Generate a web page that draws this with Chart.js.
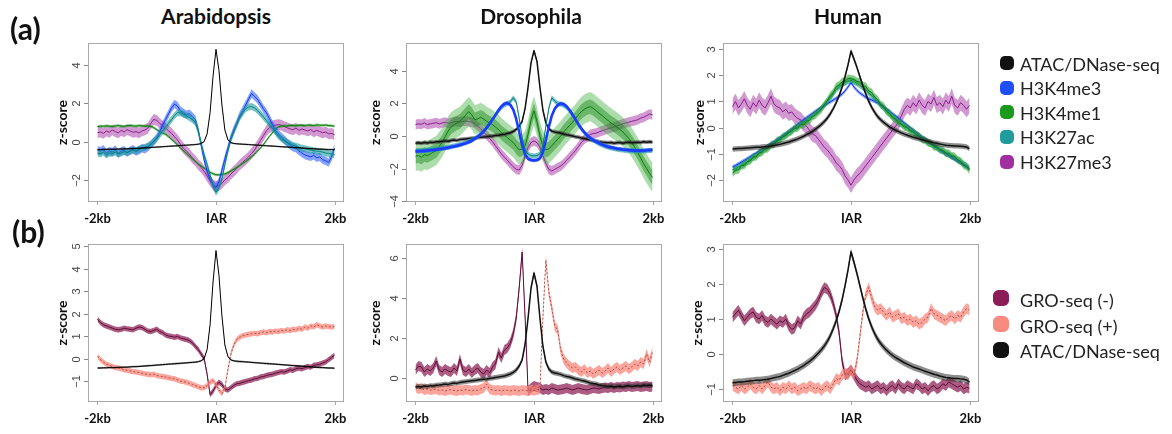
<!DOCTYPE html>
<html><head><meta charset="utf-8">
<script src="https://cdn.jsdelivr.net/npm/chart.js@4.4.1/dist/chart.umd.min.js"></script>
<style>
html,body{margin:0;padding:0;background:#fff}
body{width:1172px;height:434px;overflow:hidden;position:relative;font-family:Lato,"Open Sans",sans-serif;color:#111}
canvas{position:absolute}
.txt{position:absolute;white-space:nowrap;line-height:1}
.mk{position:absolute}
</style></head><body>
<script>
// ---------- text ----------
const species = ['Arabidopsis', 'Drosophila', 'Human'];
const panelTags = ['(a)', '(b)'];
const markLabels = ['ATAC/DNase-seq', 'H3K4me3', 'H3K4me1', 'H3K27ac', 'H3K27me3'];
const groLabels = ['GRO-seq (-)', 'GRO-seq (+)', 'ATAC/DNase-seq'];
const xTickValues = [-2000, 0, 2000];
const xTickLabels = ['-2kb', 'IAR', '2kb'];
const yAxisTitle = 'z-score';

// ---------- y ticks ----------
const arabMarkTicks = [-2, 0, 2, 4];
const drosMarkTicks = [-4, -2, 0, 2, 4];
const humanMarkTicks = [-2, -1, 0, 1, 2, 3];
const arabGroTicks = [-1, 0, 1, 2, 3, 4, 5];
const drosGroTicks = [0, 2, 4, 6];
const humanGroTicks = [-1, 0, 1, 2, 3];

// ---------- Arabidopsis ----------
const arabATAC = [-0.42,-0.42,-0.41,-0.41,-0.4,-0.4,-0.4,-0.39,-0.39,-0.38,
 -0.38,-0.37,-0.36,-0.36,-0.35,-0.34,-0.33,-0.32,-0.31,-0.3,
 -0.29,-0.28,-0.27,-0.26,-0.25,-0.24,-0.23,-0.22,-0.21,-0.2,
 -0.19,-0.18,-0.17,-0.16,-0.14,-0.1,0.0,0.4,1.5,3.4,
 4.8,3.7,1.9,0.6,0.1,-0.06,-0.1,-0.12,-0.13,-0.14,
 -0.15,-0.16,-0.17,-0.18,-0.19,-0.2,-0.21,-0.22,-0.23,-0.24,
 -0.25,-0.26,-0.27,-0.28,-0.29,-0.3,-0.31,-0.32,-0.33,-0.34,
 -0.35,-0.36,-0.37,-0.38,-0.39,-0.4,-0.4,-0.41,-0.42,-0.42,-0.43];
const arabH3K4me3 = [-0.45,-0.5,-0.4,-0.6,-0.5,-0.55,-0.42,-0.62,-0.5,-0.45,-0.58,-0.48,-0.4,-0.52,-0.45,-0.35,-0.4,-0.3,
 -0.15,0.0,0.2,0.5,0.85,1.15,1.45,1.75,1.95,1.85,1.6,1.5,1.4,1.45,1.3,1.15,0.6,-0.2,-0.95,-1.55,-1.95,-2.25,-2.4,
 -2.1,-1.5,-0.9,-0.35,0.2,0.6,0.95,1.35,1.6,1.9,2.2,2.5,2.35,2.2,1.95,1.7,1.5,1.2,0.9,0.6,
 0.4,0.25,0.1,-0.05,-0.2,-0.3,-0.35,-0.5,-0.6,-0.7,-0.75,-0.8,-0.72,-0.85,-0.8,-0.95,-1.0,-1.1,-0.8,-0.35];
const arabH3K4me1 = [0.78,0.80,0.79,0.82,0.80,0.78,0.81,0.83,0.80,0.79,0.82,0.84,0.81,0.80,0.83,0.82,0.80,0.81,0.79,
 0.72,0.62,0.52,0.44,0.37,0.25,0.11,-0.03,-0.18,-0.33,-0.48,-0.62,-0.76,-0.9,-1.04,-1.17,-1.28,-1.38,-1.5,-1.6,-1.68,-1.73,
 -1.74,-1.72,-1.69,-1.62,-1.54,-1.45,-1.35,-1.25,-1.14,-1.04,-0.92,-0.8,-0.66,-0.5,-0.34,-0.16,0.05,0.26,0.45,0.64,0.76,0.8,
 0.82,0.80,0.84,0.83,0.81,0.85,0.84,0.82,0.86,0.85,0.83,0.87,0.85,0.84,0.86,0.83,0.82,0.80];
const arabH3K27ac = [-0.6,-0.65,-0.55,-0.7,-0.6,-0.62,-0.55,-0.65,-0.6,-0.52,-0.58,-0.5,-0.45,-0.5,-0.4,-0.35,-0.3,-0.25,
 -0.15,0.0,0.15,0.35,0.55,0.75,0.95,1.15,1.35,1.5,1.5,1.42,1.35,1.25,1.15,1.0,0.55,-0.1,-0.7,-1.2,-1.75,-2.3,-2.65,
 -2.4,-1.95,-1.2,-0.5,0.1,0.5,0.9,1.25,1.5,1.7,1.8,1.82,1.75,1.62,1.45,1.28,1.1,0.9,0.7,0.5,
 0.3,0.15,0.05,-0.05,-0.12,-0.2,-0.25,-0.3,-0.35,-0.38,-0.42,-0.45,-0.48,-0.5,-0.52,-0.55,-0.6,-0.62,-0.65,-0.68];
const arabH3K27me3 = [0.45,0.5,0.42,0.55,0.48,0.6,0.52,0.45,0.58,0.5,0.62,0.55,0.48,0.52,0.45,0.55,0.6,0.7,
 0.95,1.15,1.1,0.95,0.8,0.7,0.55,0.42,0.25,0.08,-0.15,-0.35,-0.5,-0.65,-0.85,-1.0,-1.2,-1.35,-1.55,-1.8,-2.05,-2.25,-2.35,
 -2.3,-2.18,-2.0,-1.88,-1.7,-1.55,-1.4,-1.22,-1.08,-0.95,-0.8,-0.62,-0.45,-0.2,0.05,0.3,0.55,0.72,0.8,0.85,
 0.88,0.85,0.78,0.72,0.65,0.62,0.7,0.58,0.65,0.6,0.55,0.62,0.5,0.58,0.52,0.45,0.5,0.4,0.42,0.35];
const arabGROminus = [1.75,1.6,1.5,1.45,1.4,1.35,1.3,1.28,1.3,1.35,
 1.32,1.3,1.28,1.35,1.4,1.38,1.3,1.22,1.2,1.25,
 1.3,1.2,1.15,1.05,1.0,0.98,0.95,0.98,0.92,0.88,
 0.85,0.8,0.7,0.55,0.4,0.2,0.0,-0.7,-1.6,-1.45,
 -1.2,-1.05,-1.15,-1.35,-1.4,-1.3,-1.2,-1.12,-1.1,-1.05,
 -1.02,-0.98,-0.95,-0.9,-0.88,-0.82,-0.8,-0.75,-0.72,-0.7,
 -0.65,-0.62,-0.58,-0.6,-0.55,-0.5,-0.52,-0.45,-0.42,-0.45,
 -0.4,-0.35,-0.38,-0.3,-0.28,-0.25,-0.2,-0.15,-0.05,0.05,0.15];
const arabGROplus = [0.1,-0.05,-0.15,-0.25,-0.3,-0.35,-0.4,-0.42,-0.45,-0.5,
 -0.52,-0.55,-0.58,-0.6,-0.62,-0.65,-0.68,-0.7,-0.72,-0.7,
 -0.75,-0.78,-0.8,-0.82,-0.85,-0.88,-0.9,-0.95,-1.0,-1.02,
 -1.05,-1.1,-1.15,-1.2,-1.25,-1.3,-1.3,-1.2,-1.05,-0.98,
 -1.15,-1.4,-1.55,-1.3,-0.5,0.2,0.6,0.85,0.95,1.02,
 1.05,1.08,1.1,1.12,1.1,1.15,1.18,1.15,1.2,1.18,
 1.22,1.2,1.25,1.22,1.28,1.25,1.3,1.28,1.35,1.3,
 1.4,1.35,1.45,1.4,1.5,1.45,1.4,1.45,1.42,1.4,1.42];

// ---------- Drosophila ----------
const drosATAC = [-0.45,-0.42,-0.45,-0.4,-0.43,-0.38,-0.4,-0.36,-0.35,-0.33,
 -0.3,-0.32,-0.28,-0.25,-0.27,-0.22,-0.2,-0.18,-0.16,-0.14,
 -0.12,-0.1,-0.08,-0.06,-0.05,-0.02,0.0,0.03,0.05,0.08,
 0.1,0.15,0.2,0.28,0.4,0.6,0.9,1.7,3.0,4.5,
 5.25,4.6,3.0,1.6,0.8,0.45,0.3,0.25,0.22,0.18,
 0.12,0.08,0.05,0.0,-0.05,-0.08,-0.12,-0.15,-0.2,-0.25,
 -0.28,-0.3,-0.35,-0.38,-0.4,-0.42,-0.4,-0.45,-0.42,-0.4,
 -0.45,-0.4,-0.38,-0.42,-0.4,-0.38,-0.4,-0.35,-0.38,-0.35,-0.38];
const drosH3K4me3 = [-0.95,-0.94,-0.93,-0.92,-0.9,-0.88,-0.86,-0.84,-0.81,-0.78,
 -0.75,-0.72,-0.68,-0.64,-0.6,-0.55,-0.5,-0.44,-0.37,-0.29,
 -0.18,-0.05,0.1,0.28,0.5,0.75,1.02,1.3,1.58,1.82,
 1.98,2.03,1.92,1.62,1.05,0.25,-0.55,-1.15,-1.4,-1.48,
 -1.5,-1.48,-1.38,-1.0,-0.25,0.55,1.25,1.68,1.9,2.0,
 1.96,1.82,1.6,1.32,1.02,0.72,0.45,0.22,0.03,-0.12,
 -0.25,-0.36,-0.45,-0.53,-0.6,-0.66,-0.7,-0.74,-0.78,-0.8,
 -0.83,-0.85,-0.87,-0.88,-0.9,-0.9,-0.9,-0.89,-0.88,-0.86,-0.85];
const drosH3K4me1 = [-1.25,-1.2,-1.3,-1.15,-1.2,-1.1,-1.0,-0.9,-0.65,-0.4,
 -0.05,0.3,0.55,0.7,0.8,0.9,1.1,1.3,1.5,1.3,
 1.0,1.05,1.15,1.05,0.9,0.8,0.7,0.55,0.4,0.2,
 0.05,-0.1,-0.25,-0.4,-0.65,-0.85,-0.8,-0.6,0.1,1.0,
 1.55,0.9,0.0,-0.6,-0.85,-0.8,-0.6,-0.4,-0.2,0.0,
 0.25,0.45,0.65,0.85,1.05,1.3,1.5,1.65,1.75,1.8,
 1.7,1.55,1.4,1.25,1.1,0.95,0.8,0.68,0.55,0.4,
 0.25,0.05,-0.15,-0.4,-0.7,-1.0,-1.35,-1.7,-2.0,-2.3,-2.55];
const drosH3K27ac = [-0.9,-0.9,-0.88,-0.87,-0.86,-0.84,-0.82,-0.8,-0.78,-0.75,
 -0.72,-0.69,-0.65,-0.61,-0.57,-0.52,-0.47,-0.41,-0.34,-0.26,
 -0.15,-0.02,0.13,0.31,0.52,0.76,1.02,1.28,1.52,1.75,
 1.9,2.0,2.1,2.35,2.1,1.1,-0.1,-0.85,-1.12,-1.2,
 -1.22,-1.2,-1.1,-0.6,0.6,1.7,2.35,2.15,2.0,1.95,
 1.88,1.75,1.55,1.28,0.98,0.68,0.42,0.2,0.02,-0.14,
 -0.27,-0.38,-0.48,-0.56,-0.63,-0.69,-0.74,-0.78,-0.82,-0.85,
 -0.87,-0.89,-0.91,-0.92,-0.93,-0.93,-0.93,-0.92,-0.91,-0.9,-0.9];
const drosH3K27me3 = [0.7,0.75,0.72,0.8,0.7,0.75,0.78,0.82,0.75,0.8,0.85,0.78,0.82,0.88,0.9,0.85,0.9,0.92,0.88,0.85,0.78,
 0.6,0.45,0.25,0.05,-0.15,-0.35,-0.6,-0.85,-1.1,-1.3,-1.5,-1.7,-1.9,-2.05,-2.1,-1.8,-1.2,-0.7,-0.4,-0.3,
 -0.4,-0.7,-1.2,-1.7,-2.05,-2.15,-2.05,-1.95,-1.85,-1.7,-1.5,-1.3,-1.1,-0.9,-0.65,-0.4,-0.2,-0.05,0.1,0.15,
 0.18,0.25,0.32,0.38,0.45,0.5,0.55,0.62,0.68,0.75,0.8,0.85,0.9,0.95,1.0,1.1,1.15,1.25,1.35,1.3];
const drosGROminus = [0.4,0.6,0.55,0.3,0.45,0.35,0.5,0.85,0.4,0.3,
 0.45,0.35,0.3,0.5,0.35,0.95,0.4,0.3,0.45,0.25,
 0.4,0.5,0.3,0.2,0.4,0.25,0.55,0.7,1.3,1.0,
 1.4,1.5,1.75,2.2,3.0,4.5,6.3,3.0,-0.65,-0.5,
 -0.4,-0.45,-0.5,-0.6,-0.55,-0.6,-0.5,-0.55,-0.6,-0.58,
 -0.55,-0.5,-0.55,-0.6,-0.55,-0.5,-0.55,-0.58,-0.6,-0.55,
 -0.5,-0.52,-0.55,-0.5,-0.48,-0.5,-0.45,-0.5,-0.45,-0.48,
 -0.42,-0.45,-0.4,-0.45,-0.42,-0.4,-0.45,-0.42,-0.4,-0.45,-0.42];
const drosGROplus = [-0.45,-0.55,-0.5,-0.6,-0.55,-0.6,-0.58,-0.55,-0.62,-0.6,
 -0.65,-0.6,-0.58,-0.62,-0.65,-0.6,-0.62,-0.58,-0.6,-0.65,
 -0.6,-0.62,-0.55,-0.5,-0.3,-0.55,-0.6,-0.62,-0.6,-0.65,
 -0.6,-0.62,-0.65,-0.6,-0.62,-0.65,-0.6,-0.62,-0.65,-0.6,
 -0.62,-0.6,-0.55,3.0,5.9,4.3,3.5,2.6,2.4,1.4,
 0.95,0.75,0.6,0.5,0.55,0.4,0.3,0.45,0.25,0.35,
 0.2,0.3,0.4,0.25,0.35,0.5,0.3,0.45,0.55,0.4,
 0.5,0.6,0.45,0.55,0.7,0.6,0.8,0.7,1.2,0.8,1.3];

// ---------- Human ----------
const humanATAC = [-0.82,-0.81,-0.8,-0.8,-0.79,-0.78,-0.77,-0.76,-0.75,-0.75,
 -0.74,-0.73,-0.72,-0.7,-0.68,-0.66,-0.64,-0.61,-0.58,-0.55,
 -0.51,-0.47,-0.43,-0.38,-0.33,-0.27,-0.21,-0.14,-0.06,0.03,
 0.12,0.23,0.36,0.52,0.72,0.95,1.22,1.55,1.95,2.4,
 2.92,2.62,2.3,1.95,1.6,1.28,1.0,0.77,0.58,0.42,
 0.3,0.2,0.11,0.03,-0.04,-0.1,-0.15,-0.2,-0.25,-0.29,
 -0.33,-0.37,-0.4,-0.43,-0.46,-0.49,-0.52,-0.55,-0.58,-0.6,
 -0.63,-0.65,-0.67,-0.68,-0.69,-0.7,-0.7,-0.71,-0.72,-0.74,-0.8];
const humanH3K4me3 = [-1.5,-1.45,-1.38,-1.32,-1.25,-1.18,-1.11,-1.04,-0.97,-0.9,
 -0.83,-0.76,-0.69,-0.62,-0.55,-0.47,-0.4,-0.32,-0.24,-0.15,
 -0.06,0.03,0.12,0.21,0.3,0.38,0.46,0.54,0.62,0.7,
 0.77,0.84,0.91,0.98,1.05,1.12,1.2,1.28,1.4,1.55,
 1.72,1.55,1.42,1.32,1.24,1.16,1.1,1.05,1.0,0.95,
 0.88,0.8,0.72,0.63,0.54,0.45,0.36,0.27,0.18,0.09,
 0.0,-0.09,-0.18,-0.27,-0.36,-0.45,-0.53,-0.61,-0.69,-0.77,
 -0.85,-0.93,-1.0,-1.07,-1.14,-1.21,-1.28,-1.35,-1.42,-1.49,-1.56];
const humanH3K4me1 = [-1.75,-1.62,-1.62,-1.45,-1.44,-1.3,-1.27,-1.12,-1.12,-0.97,
 -0.94,-0.82,-0.8,-0.65,-0.64,-0.5,-0.47,-0.35,-0.3,-0.2,
 -0.14,-0.02,-0.02,0.12,0.1,0.25,0.28,0.42,0.48,0.6,
 0.7,0.88,1.02,1.22,1.33,1.57,1.62,1.75,1.77,1.88,
 1.86,1.84,1.76,1.74,1.6,1.57,1.4,1.34,1.16,1.07,
 0.88,0.82,0.62,0.55,0.39,0.32,0.19,0.14,0.02,0.0,
 -0.13,-0.16,-0.28,-0.33,-0.45,-0.48,-0.58,-0.6,-0.73,-0.73,
 -0.85,-0.86,-0.98,-0.98,-1.08,-1.1,-1.23,-1.28,-1.43,-1.48,-1.64];
const humanH3K27ac = [-1.6,-1.58,-1.5,-1.45,-1.38,-1.3,-1.22,-1.15,-1.06,-0.98,
 -0.9,-0.82,-0.75,-0.68,-0.6,-0.52,-0.44,-0.36,-0.28,-0.2,
 -0.12,-0.04,0.04,0.12,0.2,0.28,0.36,0.45,0.54,0.63,
 0.74,0.86,1.0,1.14,1.3,1.45,1.56,1.65,1.72,1.78,
 1.8,1.76,1.7,1.62,1.53,1.43,1.33,1.22,1.1,0.98,
 0.86,0.74,0.63,0.52,0.42,0.33,0.24,0.15,0.07,-0.01,
 -0.09,-0.17,-0.25,-0.33,-0.41,-0.49,-0.56,-0.63,-0.7,-0.77,
 -0.84,-0.9,-0.97,-1.03,-1.1,-1.16,-1.23,-1.3,-1.38,-1.46,-1.55];
const humanH3K27me3 = [0.8,1.0,0.75,0.9,1.1,0.85,0.7,0.95,0.8,1.05,
 0.85,0.75,0.95,1.2,0.9,0.8,0.75,0.6,0.7,0.55,
 0.6,0.45,0.35,0.3,0.15,0.05,-0.1,-0.25,-0.3,-0.45,
 -0.6,-0.75,-0.85,-1.0,-1.15,-1.35,-1.45,-1.6,-1.85,-2.0,
 -2.2,-2.0,-1.85,-1.75,-1.6,-1.45,-1.3,-1.15,-1.0,-0.85,
 -0.7,-0.55,-0.4,-0.25,-0.1,0.05,0.2,0.45,0.7,0.85,
 0.75,0.95,0.8,1.05,0.85,0.75,1.0,0.9,1.15,0.85,
 0.95,0.8,1.05,0.9,1.2,0.85,0.75,0.95,0.85,0.7,0.85];
const humanGROminus = [1.05,1.15,1.25,1.1,0.95,1.05,1.15,1.2,1.05,1.0,
 1.1,0.95,0.9,1.0,0.92,0.85,0.95,0.9,1.0,0.8,
 0.7,0.75,0.95,0.85,1.05,1.15,1.2,1.3,1.4,1.55,
 1.75,1.9,1.85,1.7,1.45,1.1,0.6,-0.2,-0.6,-0.55,
 -0.45,-0.6,-0.75,-0.85,-0.9,-0.95,-0.9,-1.0,-0.95,-0.9,
 -1.0,-0.95,-1.05,-0.95,-0.9,-1.0,-0.85,-0.95,-1.0,-0.9,
 -0.95,-1.0,-0.85,-0.9,-1.0,-0.95,-1.05,-0.95,-0.9,-1.0,
 -0.95,-0.85,-0.9,-0.8,-0.85,-0.9,-0.95,-0.9,-1.0,-0.95,-0.98];
const humanGROplus = [-0.9,-0.95,-1.0,-0.9,-1.0,-0.95,-0.85,-0.95,-1.0,-0.9,
 -1.0,-0.9,-0.8,-0.95,-1.0,-0.95,-1.05,-0.95,-1.0,-0.9,
 -1.0,-0.95,-1.05,-1.0,-0.95,-1.0,-0.9,-0.95,-1.0,-0.95,
 -1.05,-0.95,-0.9,-1.0,-0.85,-0.7,-0.75,-0.6,-0.55,-0.6,
 -0.45,-0.6,-0.2,0.5,1.2,1.7,1.9,1.6,1.35,1.25,
 1.3,1.2,1.1,1.2,1.05,1.1,1.15,1.0,1.05,0.95,
 1.0,0.9,0.95,0.85,0.9,1.0,1.05,1.3,1.15,1.1,
 1.05,1.0,0.95,1.05,1.1,1.0,1.1,1.05,1.2,1.3,1.25];

// ---------- styles ----------
const STY = {
  atac:  {line:'#000000', band:'rgba(0,0,0,0.45)', w:1},
  atacW: {line:'#111111', band:'rgba(50,50,50,0.55)', w:1.5},
  k4me3: {line:'#1034ff', band:'rgba(35,85,255,0.55)', w:1},
  k4me3W:{line:'#1a3cff', band:'rgba(40,95,255,0.6)', w:2.6},
  k4me1: {line:'#0b7d0b', band:'rgba(35,160,35,0.55)', w:1},
  k27ac: {line:'#0a8080', band:'rgba(25,155,155,0.6)', w:1},
  k27me3:{line:'#8b1f8b', band:'rgba(165,50,165,0.5)', w:1},
  grom:  {line:'#5e0d34', band:'rgba(140,28,82,0.72)', w:1},
  grop:  {line:'#a8443b', band:'rgba(250,130,118,0.72)', w:0.9, dash:[2,2]}
};
const XMIN = -2160, XMAX = 2160;

const panels = [
  {box:[88,43,344,202], y:[-3.15,5.13], ticks:arabMarkTicks, zOff:26, series:[
    {d:arabH3K27me3, se:[0.28], s:'k27me3'},
    {d:arabH3K4me1, se:[0.07], s:'k4me1'},
    {d:arabH3K4me3, se:[0.22], s:'k4me3'},
    {d:arabH3K27ac, se:[0.18], s:'k27ac'},
    {d:arabATAC, se:[0.04], s:'atac'}]},
  {box:[406,43,662,202], y:[-4.06,5.72], ticks:drosMarkTicks, zOff:31, series:[
    {d:drosH3K27me3, se:[0.3], s:'k27me3'},
    {d:drosH3K4me1, se:[0.9,0.45], s:'k4me1', bands:['rgba(60,175,60,0.42)','rgba(25,135,25,0.45)']},
    {d:drosATAC, se:[0.12], s:'atacW'},
    {d:drosH3K27ac, se:[0.15], s:'k27ac'},
    {d:drosH3K4me3, se:[0.12], s:'k4me3W'}]},
  {box:[723,43,979,202], y:[-2.84,3.23], ticks:humanMarkTicks, zOff:24, series:[
    {d:humanH3K27me3, se:[0.3], s:'k27me3'},
    {d:humanH3K27ac, se:[0.12], s:'k27ac'},
    {d:humanH3K4me3, se:[0.07], s:'k4me3'},
    {d:humanH3K4me1, se:[0.15], s:'k4me1'},
    {d:humanATAC, se:[0.1], s:'atacW'}]},
  {box:[88,244,344,402], y:[-1.93,5.09], ticks:arabGroTicks, zOff:26, series:[
    {d:arabGROminus, se:[0.12], s:'grom'},
    {d:arabGROplus, se:[0.12], s:'grop'},
    {d:arabATAC, se:[0.04], s:'atac'}]},
  {box:[406,244,662,402], y:[-1.2,6.7], ticks:drosGroTicks, zOff:31, series:[
    {d:drosGROminus, se:[0.25], s:'grom'},
    {d:drosGROplus, se:[0.25], s:'grop'},
    {d:drosATAC, se:[0.12], s:'atacW'}]},
  {box:[723,244,979,402], y:[-1.37,3.14], ticks:humanGroTicks, zOff:26, series:[
    {d:humanGROminus, se:[0.15], s:'grom'},
    {d:humanGROplus, se:[0.15], s:'grop'},
    {d:humanATAC, se:[0.1], s:'atacW'}]}
];

function pts(arr, off) {
  const n = arr.length;
  return arr.map((v, i) => ({x: -2000 + 4000 * i / (n - 1), y: v + off}));
}

function axesPlugin(p) {
  return {
    id: 'rAxes',
    afterDraw(chart) {
      const {ctx, chartArea: a, scales: {x, y}} = chart;
      ctx.save();
      ctx.strokeStyle = '#a8a8a8';
      ctx.lineWidth = 1;
      ctx.strokeRect(Math.round(a.left) + 0.5, Math.round(a.top) + 0.5,
                     Math.round(a.right - a.left) - 1, Math.round(a.bottom - a.top) - 1);
      ctx.strokeStyle = '#888';
      ctx.fillStyle = '#444';
      ctx.font = '11px "Liberation Sans", Arial, sans-serif';
      ctx.textAlign = 'center';
      ctx.textBaseline = 'middle';
      p.ticks.forEach(v => {
        const py = Math.round(y.getPixelForValue(v)) + 0.5;
        ctx.beginPath(); ctx.moveTo(a.left - 4, py); ctx.lineTo(a.left, py); ctx.stroke();
        ctx.save(); ctx.translate(a.left - 11, py); ctx.rotate(-Math.PI / 2);
        ctx.fillText(String(v).replace('-', '\u2212'), 0, 0); ctx.restore();
      });
      ctx.fillStyle = '#111';
      ctx.font = 'bold 13px Lato, sans-serif';
      xTickValues.forEach((v, i) => {
        const px = Math.round(x.getPixelForValue(v)) + 0.5;
        ctx.strokeStyle = '#aaa';
        ctx.beginPath(); ctx.moveTo(px, a.bottom); ctx.lineTo(px, a.bottom + 3); ctx.stroke();
        ctx.fillText(xTickLabels[i], px, a.bottom + 17);
      });
      ctx.font = 'bold 14px Lato, sans-serif';
      ctx.save(); ctx.translate(a.left - p.zOff, (a.top + a.bottom) / 2); ctx.rotate(-Math.PI / 2);
      ctx.fillText(yAxisTitle, 0, 0); ctx.restore();
      ctx.restore();
    }
  };
}

const PADL = 70, PADT = 6, PADR = 8, PADB = 36;
panels.forEach(p => {
  const [bl, bt, br, bb] = p.box;
  const cv = document.createElement('canvas');
  const w = (br - bl) + PADL + PADR, h = (bb - bt) + PADT + PADB;
  cv.width = w; cv.height = h;
  cv.style.left = (bl - PADL) + 'px'; cv.style.top = (bt - PADT) + 'px';
  cv.style.width = w + 'px'; cv.style.height = h + 'px';
  document.body.appendChild(cv);
  const datasets = [];
  let order = 0;
  p.series.forEach(s => {
    const st = STY[s.s];
    s.se.forEach((e, j) => {
      const bandCol = s.bands ? s.bands[j] : st.band;
      datasets.push({data: pts(s.d, -e), borderWidth: 0, pointRadius: 0, fill: false, order: order--});
      datasets.push({data: pts(s.d, e), borderWidth: 0, pointRadius: 0, fill: '-1', backgroundColor: bandCol, order: order--});
    });
    datasets.push({data: pts(s.d, 0), borderColor: st.line, borderWidth: st.w, borderDash: st.dash || [],
                   pointRadius: 0, fill: false, order: order--});
  });
  new Chart(cv, {
    type: 'line',
    data: {datasets},
    options: {
      responsive: false, animation: false, devicePixelRatio: 1,
      layout: {padding: {left: PADL, top: PADT, right: PADR, bottom: PADB}},
      plugins: {legend: {display: false}, tooltip: {enabled: false}},
      elements: {line: {tension: 0, borderJoinStyle: 'round'}, point: {radius: 0}},
      scales: {
        x: {type: 'linear', min: XMIN, max: XMAX, display: false},
        y: {type: 'linear', min: p.y[0], max: p.y[1], display: false}
      }
    },
    plugins: [axesPlugin(p)]
  });
});

// ---------- HTML text ----------
function addText(str, left, baseline, size, bold, center, color) {
  const d = document.createElement('div');
  d.className = 'txt';
  d.textContent = str;
  d.style.fontSize = size + 'px';
  d.style.fontWeight = bold ? 'bold' : 'normal';
  d.style.top = (baseline - 0.887 * size) + 'px';
  d.style.left = left + 'px';
  if (color) d.style.color = color;
  if (center) d.style.transform = 'translateX(-50%)';
  document.body.appendChild(d);
}
const titleX = [216, 531, 848];
species.forEach((t, i) => addText(t, titleX[i], 24, 21, true, true));
addText(panelTags[0], 10, 40, 30, true, false);
addText(panelTags[1], 12, 243, 30, true, false);

function addMarker(cx, cy, size, color) {
  const m = document.createElement('div');
  m.className = 'mk';
  m.style.left = (cx - size / 2) + 'px'; m.style.top = (cy - size / 2) + 'px';
  m.style.width = size + 'px'; m.style.height = size + 'px';
  m.style.borderRadius = (size * 0.35) + 'px';
  m.style.background = color;
  document.body.appendChild(m);
}
const markColors = ['#111111', '#1f4fff', '#1a9a1a', '#219b9b', '#a22ea2'];
markLabels.forEach((t, i) => {
  addMarker(1007, 63 + 24.7 * i, 14, markColors[i]);
  addText(t, 1020, 71 + 24.4 * i, 18, false, false, '#222');
});
const groColors = ['#8c1c55', '#f88a80', '#111111'];
groLabels.forEach((t, i) => {
  addMarker(1001, 298 + 26 * i, 16, groColors[i]);
  addText(t, 1020, 307 + 25.5 * i, 18, false, false, '#222');
});
</script>
</body></html>
